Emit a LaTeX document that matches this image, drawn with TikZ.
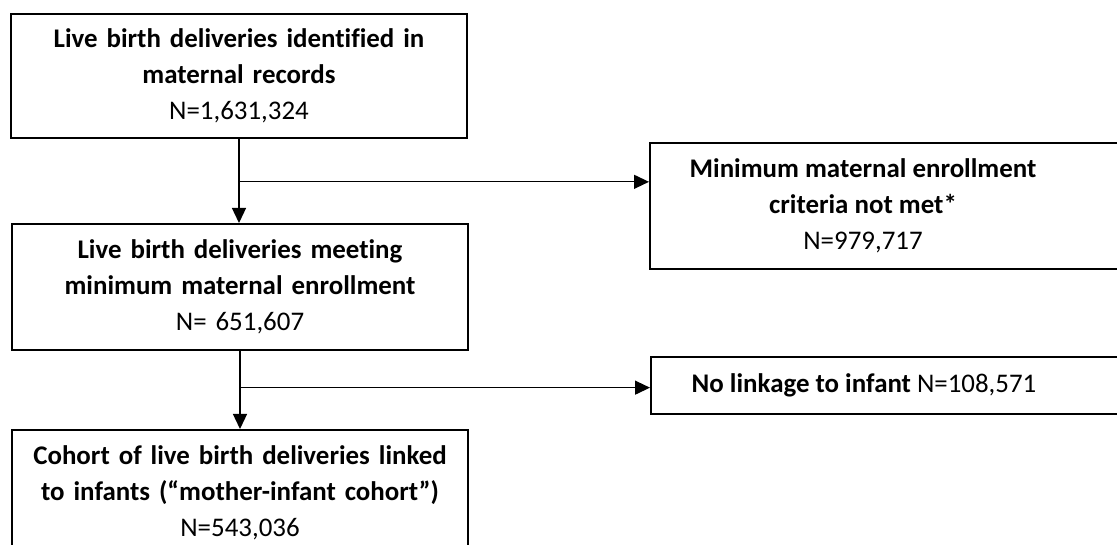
\documentclass[tikz,border=0pt]{standalone}
\usepackage{fontspec}
\setmainfont{Carlito}[Ligatures=NoCommon]
\usetikzlibrary{arrows.meta,positioning,calc}

\begin{document}
\begin{tikzpicture}[x=1bp,y=-1bp,>={Triangle[length=15bp,width=14bp]}]
  \tikzset{stage/.style={draw,line width=2bp,minimum height=124bp,text width=446bp,
    inner xsep=5bp,align=center,font=\fontsize{27}{36}\selectfont},
    exclusion/.style={draw,line width=2bp,anchor=north west,inner xsep=0pt,
    font=\fontsize{27}{36}\selectfont},
    flow/.style={->,line width=1.3bp}}
  \clip (0,0) rectangle (1117,545);
  \node[stage] (records) at (239,76) {\textbf{Live birth deliveries identified in}\\\textbf{maternal records}\\N=1,631,324};
  \node[stage,minimum height=126bp] (meet) at (240,287) {\textbf{Live birth deliveries meeting}\\\textbf{minimum maternal enrollment}\\N= 651,607};
  \node[stage,minimum height=126bp] (cohort) at (240,493) {\textbf{Cohort of live birth deliveries linked}\\\textbf{to infants (``mother-infant cohort'')}\\N=543,036};
  \node[exclusion,minimum height=126bp] (notmet) at (649,142)
    {\parbox{426bp}{\centering\textbf{Minimum maternal enrollment}\\\textbf{criteria not met*}\\N=979,717}\hspace*{60bp}};
  \node[exclusion,minimum height=57bp] (nolink) at (650,356)
    {\parbox{426bp}{\centering\textbf{No linkage to infant} N=108,571}\hspace*{60bp}};
  \coordinate (split1) at ($(records.south)!0.51!(meet.north)$);
  \coordinate (split2) at ($(meet.south)!0.47!(cohort.north)$);
  \draw[flow] (records.south) -- (records.south |- meet.north);
  \draw[flow] (meet.south) -- (meet.south |- cohort.north);
  \draw[flow] (split1) -- (split1 -| notmet.west);
  \draw[flow] (split2) -- (split2 -| nolink.west);
\end{tikzpicture}
\end{document}
